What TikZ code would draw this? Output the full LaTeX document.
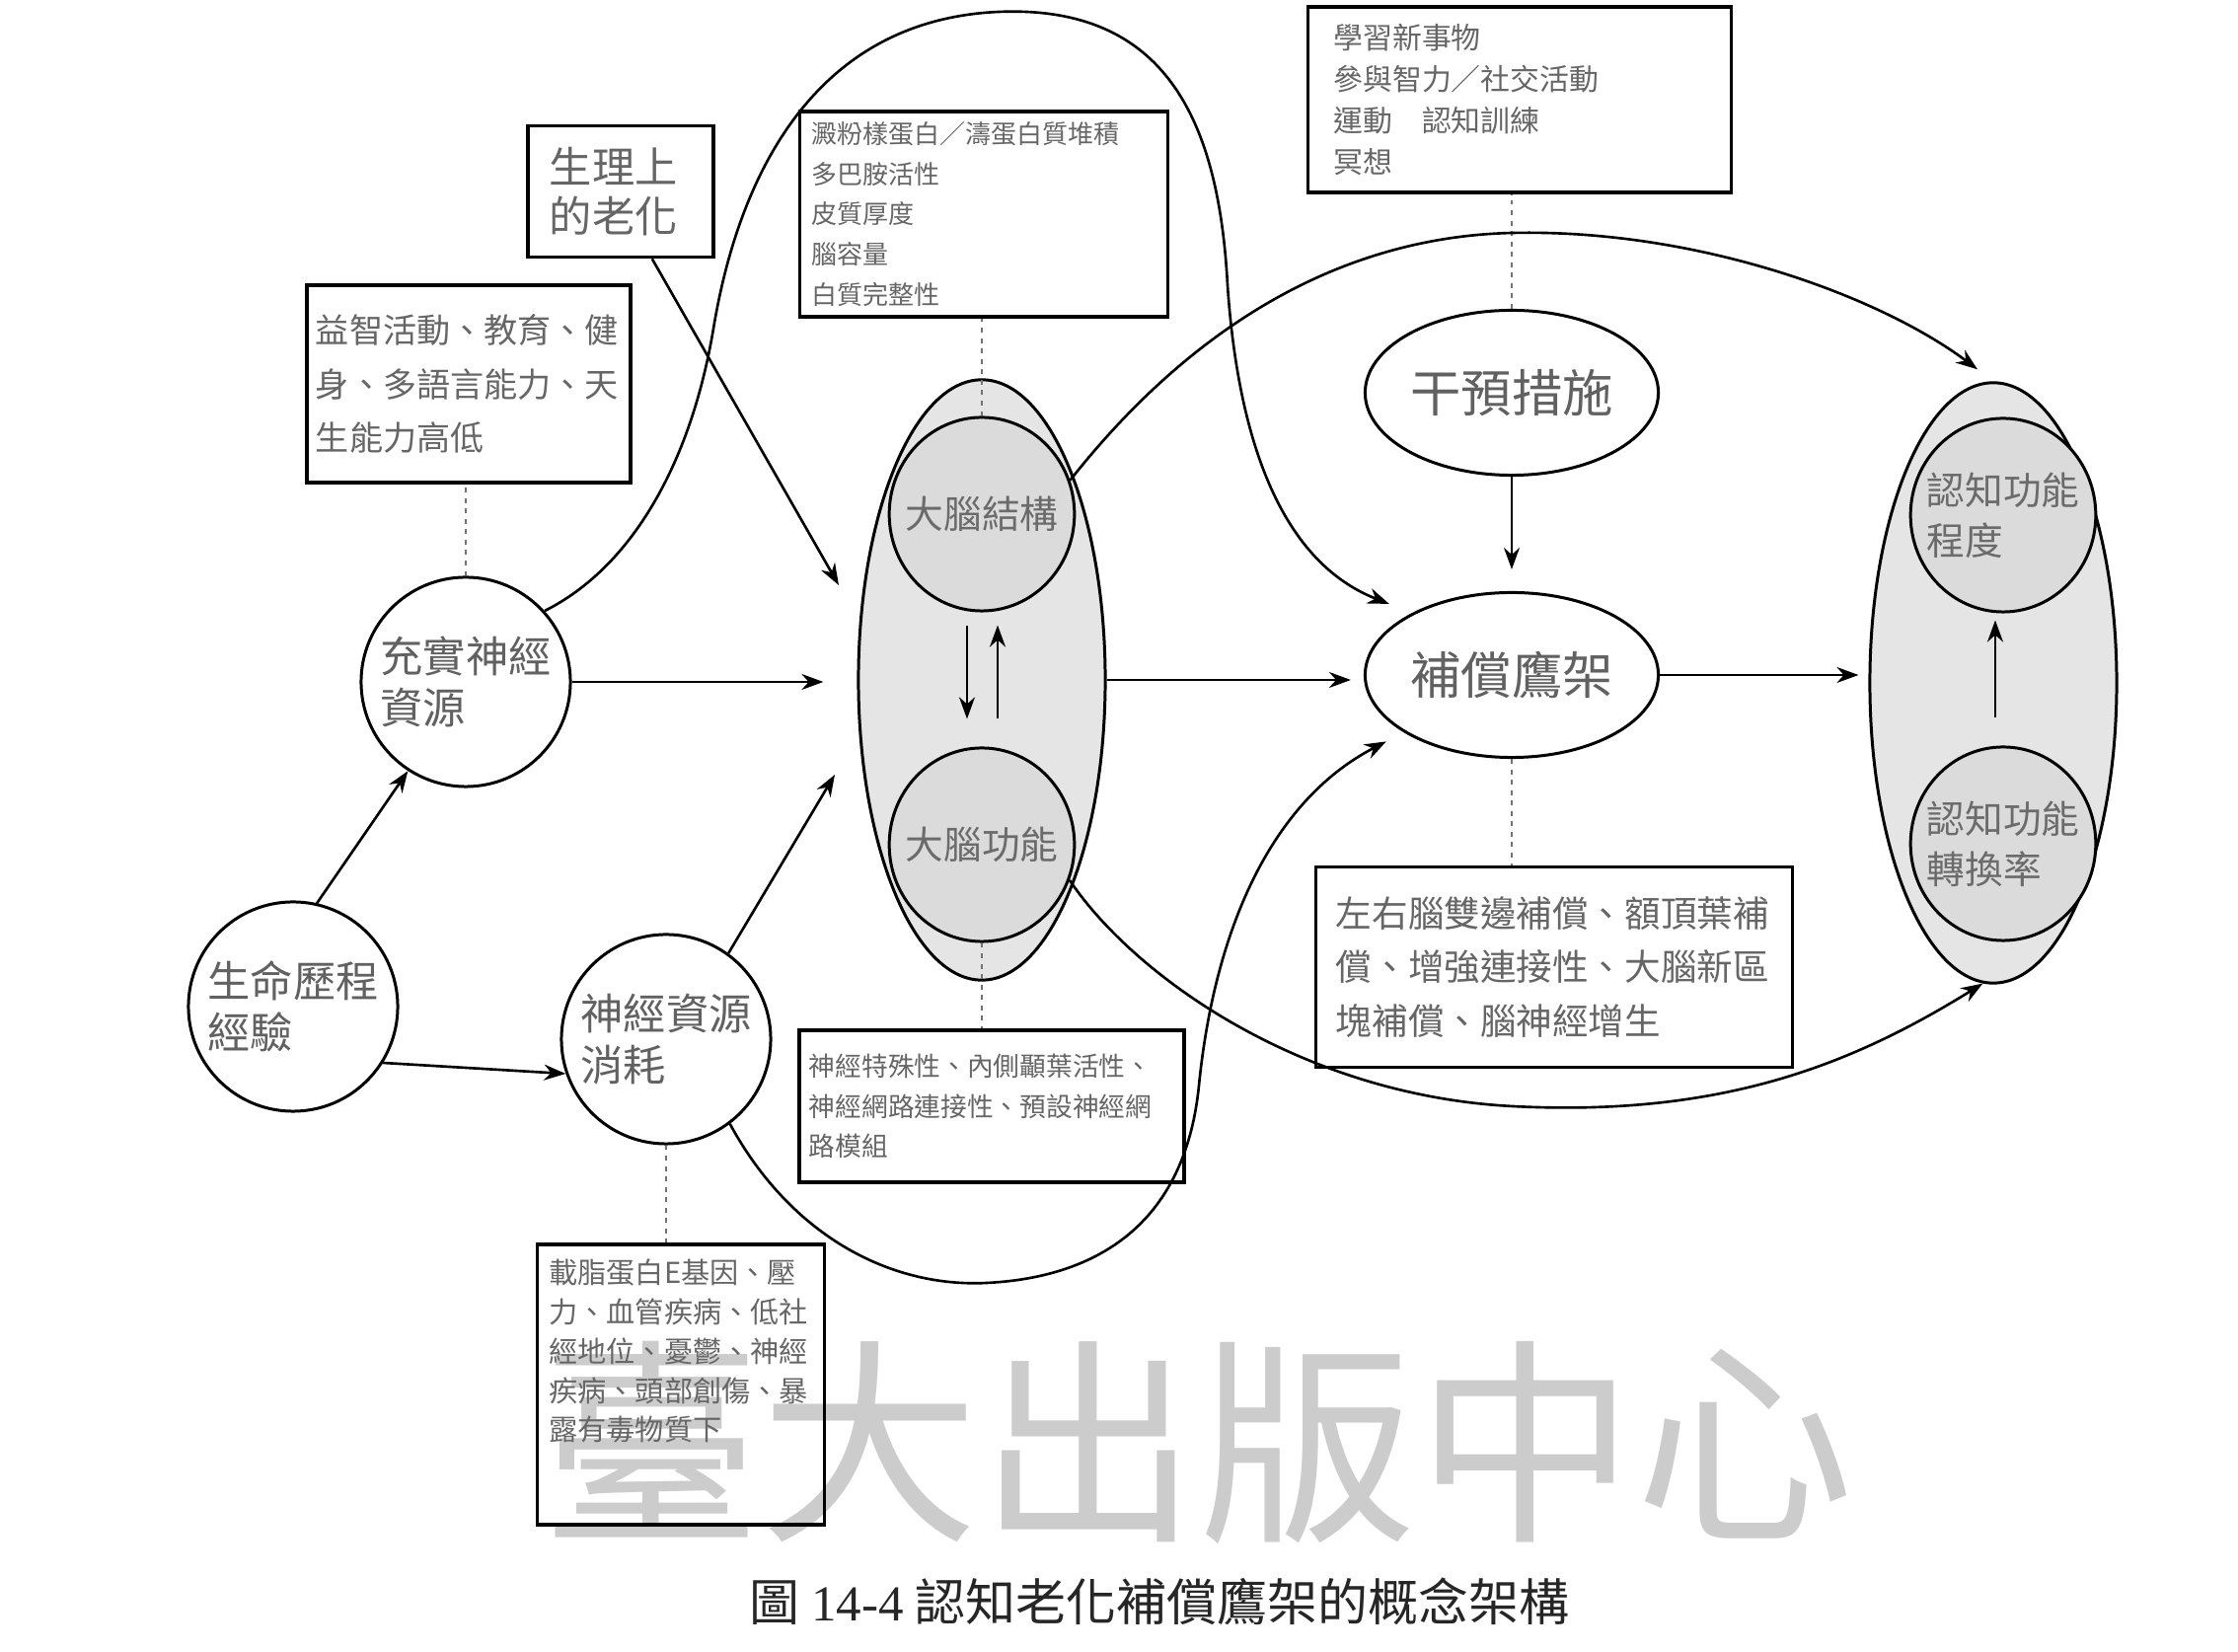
\documentclass[tikz,border=0pt]{standalone}
\usepackage{fontspec}
\setmainfont{Liberation Serif}
\newfontfamily\cjk{Noto Sans CJK TC}
\usetikzlibrary{arrows.meta,shapes.geometric}

\begin{document}
\begin{tikzpicture}[x=0.01cm,y=-0.01cm,>={Stealth[length=2.2mm,width=1.6mm]},
  circ/.style={circle,draw,line width=0.85pt,minimum size=2.12cm,inner sep=0pt,align=left,text=black!62,font=\cjk\fontsize{12.3}{14.8}\selectfont},
  oval/.style={ellipse,draw,line width=0.85pt,minimum width=2.97cm,minimum height=1.67cm,inner sep=0pt,text=black!62,font=\cjk\fontsize{14.6}{17}\selectfont},
  shell/.style={ellipse,draw,line width=0.85pt,fill=black!10,minimum width=2.5cm,minimum height=6.08cm},
  inpart/.style={ellipse,draw,line width=0.85pt,fill=black!14,minimum width=1.86cm,minimum height=1.96cm,inner xsep=-1.1mm,inner ysep=0pt,align=left,text=black!58,font=\cjk\fontsize{11}{14.5}\selectfont},
  box/.style={draw,line width=1pt,inner sep=0pt,align=left,text=black!60},
  dots/.style={line width=0.5pt,black!55,dash pattern=on 1.4pt off 1.6pt},
  link/.style={->,line width=0.75pt}]
\fill[white] (0,0) rectangle (2268,1674);
\useasboundingbox (0,0) rectangle (2268,1674);
% watermark
\node[text=black!20,font=\cjk\fontsize{63}{63}\selectfont] (mark) at (1214,1462) {臺大出版中心};

% left column
\node[circ] (life) at (297,1020) {生命歷程\\經驗};
\node[circ] (enrich) at (472,691) {充實神經\\資源};
\node[circ] (deplete) at (675,1053) {神經資源\\消耗};
\node[box,minimum width=1.88cm,minimum height=1.33cm,text width=1.44cm,font=\cjk\fontsize{12.3}{14.4}\selectfont] (aging) at (629,194) {生理上\\的老化};
\node[box,minimum width=3.28cm,minimum height=2cm,text width=3.1cm,font=\cjk\fontsize{9.7}{15.6}\selectfont] (enrichbox) at (475,389) {益智活動、教育、健\\身、多語言能力、天\\生能力高低};
\node[box,minimum width=2.91cm,text width=2.67cm,text height=0.4cm,text depth=2.44cm,font=\cjk\fontsize{8.3}{11.3}\selectfont] (riskbox) at (690,1403) {載脂蛋白E基因、壓\\力、血管疾病、低社\\經地位、憂鬱、神經\\疾病、頭部創傷、暴\\露有毒物質下};

% brain
\node[shell] (brainout) at (995,689) {};
\node[inpart] (struct) at (995,521) {大腦結構};
\node[inpart] (func) at (995,856) {大腦功能};
\node[box,minimum width=3.73cm,minimum height=2.08cm,text width=3.49cm,font=\cjk\fontsize{7.4}{11.6}\selectfont] (structbox) at (997,217) {澱粉樣蛋白／濤蛋白質堆積\\多巴胺活性\\皮質厚度\\腦容量\\白質完整性};
\node[box,minimum width=3.9cm,minimum height=1.54cm,text width=3.7cm,font=\cjk\fontsize{7.6}{11.5}\selectfont] (funcbox) at (1005,1121) {神經特殊性、內側顳葉活性、\\神經網路連接性、預設神經網\\路模組};

% scaffolding
\node[oval] (interv) at (1532,398) {干預措施};
\node[oval] (comp) at (1532,684) {補償鷹架};
\node[box,minimum width=4.29cm,minimum height=1.88cm,text width=3.77cm,font=\cjk\fontsize{8.5}{12}\selectfont] (intervbox) at (1540,101) {學習新事物\\參與智力／社交活動\\運動　認知訓練\\冥想};
\node[box,minimum width=4.83cm,minimum height=2.03cm,text width=4.42cm,font=\cjk\fontsize{10.4}{15.6}\selectfont] (compbox) at (1575,980) {左右腦雙邊補償、額頂葉補\\償、增強連接性、大腦新區\\塊補償、腦神經增生};

% cognition
\node[shell] (cogout) at (2020,692) {};
\node[inpart] (level) at (2030,522) {認知功能\\程度};
\node[inpart] (rate) at (2030,855) {認知功能\\轉換率};

\node[font=\cjk\fontsize{14.5}{17}\selectfont,text=black!85] (caption) at (1175,1623) {圖 {\rmfamily 14-4} 認知老化補償鷹架的概念架構};

% dotted ties
\draw[dots] (enrich.north) -- (enrich.north |- enrichbox.south);
\draw[dots] (struct.north) -- (struct.north |- structbox.south);
\draw[dots] (func.south) -- (func.south |- funcbox.north);
\draw[dots] (interv.north) -- (interv.north |- intervbox.south);
\draw[dots] (comp.south) -- (comp.south |- compbox.north);
\draw[dots] (deplete.south) -- (deplete.south |- riskbox.north);

% arrows
\coordinate (tipA) at (850,593);
\coordinate (tipD) at (846,785);
\draw[link] (life.77) -- (enrich.237);
\draw[link] (life.-32) -- (deplete.199);
\draw[link] (aging.-65) -- (tipA);
\draw[link] (deplete.54) -- (tipD);
\draw[link,shorten >=3.4mm] (enrich) -- (enrich -| brainout.west);
\draw[link,shorten >=1.3mm] (brainout.east) -- (brainout.east -| comp.west);
\draw[link,shorten >=2.2mm] (interv) -- (comp);
\draw[link,shorten >=1mm] (comp.east) -- (comp.east -| cogout.west);
\draw[link,shorten <=1.3mm,shorten >=2.8mm] ([xshift=-1.5mm]struct.south) -- ([xshift=-1.5mm]func.north);
\draw[link,shorten <=2.8mm,shorten >=1.3mm] ([xshift=1.6mm]func.north) -- ([xshift=1.6mm]struct.south);
\draw[link,shorten <=2.8mm,shorten >=0.7mm] ([xshift=-0.8mm]rate.north) -- ([xshift=-0.8mm]level.south);

\draw[link,shorten >=2.5mm] (enrich.42) .. controls (640,575) and (700,470) .. (723,333)
  .. controls (750,170) and (830,20) .. (1012,12)
  .. controls (1180,5) and (1235,120) .. (1244,289)
  .. controls (1255,450) and (1300,570) .. (comp.148);
\draw[link,shorten >=2mm] (struct.21) .. controls (1200,340) and (1350,240) .. (1533,236)
  .. controls (1720,232) and (1905,300) .. (cogout.north);
\draw[link] (func.-22) .. controls (1150,990) and (1320,1110) .. (1533,1121)
  .. controls (1746,1132) and (1878,1078) .. (cogout.-92);
\draw[link,shorten >=2mm] (deplete.-53) .. controls (800,1250) and (900,1305) .. (1000,1300)
  .. controls (1100,1295) and (1200,1250) .. (1215,1100)
  .. controls (1230,950) and (1284,814) .. (comp.208);
\end{tikzpicture}
\end{document}
